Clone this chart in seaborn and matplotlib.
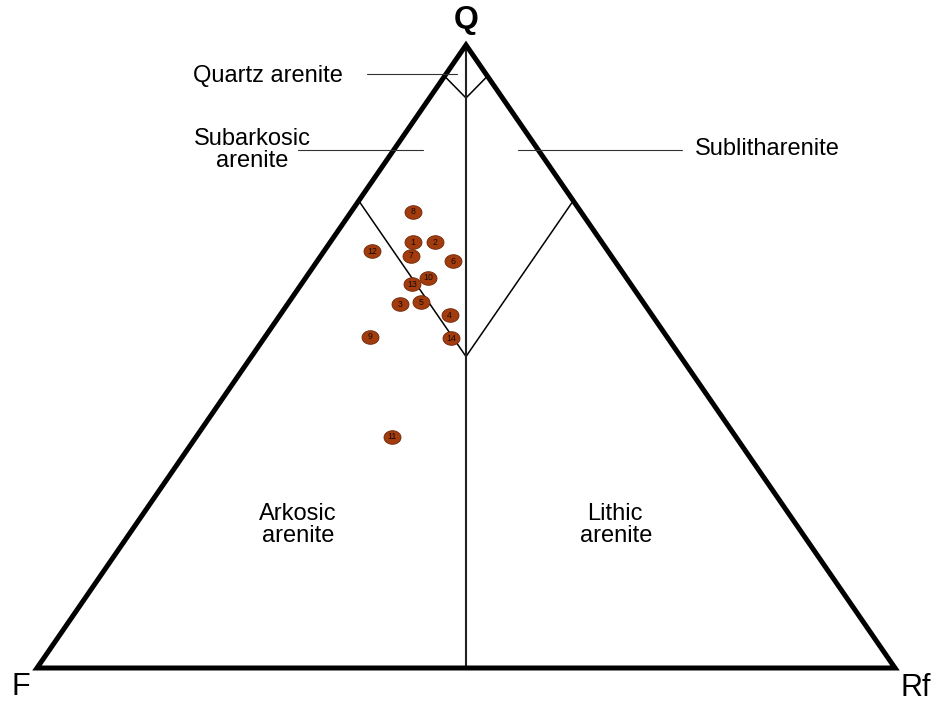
import numpy as np
import pandas as pd
import matplotlib
matplotlib.use("Agg")
import matplotlib.pyplot as plt
from matplotlib.path import Path
from matplotlib.patches import Polygon
import seaborn as sns

# Sample modal compositions (%), QFRf
sample_ids = ["1", "2", "3", "4", "5", "6", "7", "8", "9", "10", "11", "12", "13", "14"]
quartz = [68.3, 68.3, 58.4, 56.7, 58.7, 65.3, 66.2, 73.2, 53.2, 62.6, 37.1, 66.9, 61.6, 52.9]
feldspar = [22.0, 19.5, 28.5, 23.6, 25.9, 18.9, 23.3, 19.6, 34.6, 23.1, 40.0, 27.5, 25.5, 25.3]
rock_frag = [9.7, 12.2, 13.1, 19.8, 15.4, 15.8, 10.5, 7.2, 12.2, 14.2, 22.8, 5.6, 12.9, 21.8]

# Classification field boundaries (Q, F, Rf in %)
quartz_arenite_left = [(95, 5, 0), (91.5, 4.25, 4.25)]
quartz_arenite_right = [(95, 0, 5), (91.5, 4.25, 4.25)]
subarkose_boundary = [(75, 25, 0), (50, 25, 25)]
sublitharenite_boundary = [(75, 0, 25), (50, 25, 25)]
fr_divide = [(100, 0, 0), (0, 50, 50)]

sns.set_theme(style="white")
plt.rcParams["font.family"] = ["Liberation Sans", "DejaVu Sans"]
plt.rcParams["text.color"] = "black"


def to_xy(q, f, r):
    q, f, r = np.asarray(q, float), np.asarray(f, float), np.asarray(r, float)
    tot = q + f + r
    q, r = q / tot, r / tot
    return r + q / 2.0, q


W, H = 941, 706
fig = plt.figure(figsize=(W / 100, H / 100), dpi=100)
ax = fig.add_axes([0, 0, 1, 1])
# F vertex at pixel (37, 668), Rf at (895, 668), Q at (466, 45)
sx, sy = 858.0, 623.0
ax.set_xlim(-37 / sx, (W - 37) / sx)
ax.set_ylim((668 - H) / sy, 668 / sy)
ax.axis("off")

# Outer triangle
tri = Polygon([(0, 0), (1, 0), (0.5, 1)], closed=True, fill=False,
              edgecolor="black", linewidth=3.6, joinstyle="miter", zorder=3)
ax.add_patch(tri)

# Internal field boundaries
for seg in [quartz_arenite_left, quartz_arenite_right,
            subarkose_boundary, sublitharenite_boundary]:
    xs, ys = to_xy(*zip(*seg))
    ax.plot(xs, ys, color="black", linewidth=1.1, zorder=2)
xs, ys = to_xy(*zip(*fr_divide))
ax.plot(xs, ys, color="#222222", linewidth=1.5, zorder=2)

# Sample points
px, py = to_xy(quartz, feldspar, rock_frag)
df = pd.DataFrame({"x": px, "y": py, "sample": sample_ids})
t = np.linspace(0, 2 * np.pi, 60)
ellipse = Path(np.column_stack([np.cos(t), 0.8 * np.sin(t)]), closed=True)
sns.scatterplot(data=df, x="x", y="y", ax=ax, marker=ellipse, s=150,
                color="#A23C0E", edgecolor="#6E2608", linewidth=0.6,
                legend=False, zorder=4)
for _, row in df.iterrows():
    ax.text(row["x"], row["y"], row["sample"], fontsize=6.3, color="#1a0a00",
            ha="center", va="center", zorder=5)
ax.set_xlabel("")
ax.set_ylabel("")

# Labels in pixel space
lab = fig.add_axes([0, 0, 1, 1], zorder=5)
lab.set_xlim(0, W)
lab.set_ylim(H, 0)
lab.axis("off")
lab.patch.set_alpha(0)

lab.text(466, 20, "Q", fontsize=23, fontweight="bold", ha="center", va="center")
lab.text(21, 687, "F", fontsize=22, ha="center", va="center")
lab.text(916, 688, "Rf", fontsize=22, ha="center", va="center")

fs = 17
lab.text(268, 82, "Quartz arenite", fontsize=fs, ha="center", va="baseline")
lab.text(252, 145, "Subarkosic", fontsize=fs, ha="center", va="baseline")
lab.text(252, 167, "arenite", fontsize=fs, ha="center", va="baseline")
lab.text(767, 155, "Sublitharenite", fontsize=fs, ha="center", va="baseline")
lab.text(298, 520, "Arkosic", fontsize=fs, ha="center", va="baseline")
lab.text(298, 542, "arenite", fontsize=fs, ha="center", va="baseline")
lab.text(615, 520, "Lithic", fontsize=fs, ha="center", va="baseline")
lab.text(616, 542, "arenite", fontsize=fs, ha="center", va="baseline")

# Leader lines
lab.plot([367, 457], [74, 74], color="#333333", linewidth=0.8)
lab.plot([298, 423], [150, 150], color="#333333", linewidth=0.8)
lab.plot([518, 682], [150, 150], color="#333333", linewidth=0.8)

fig.savefig("out.png", dpi=100, facecolor="white")
